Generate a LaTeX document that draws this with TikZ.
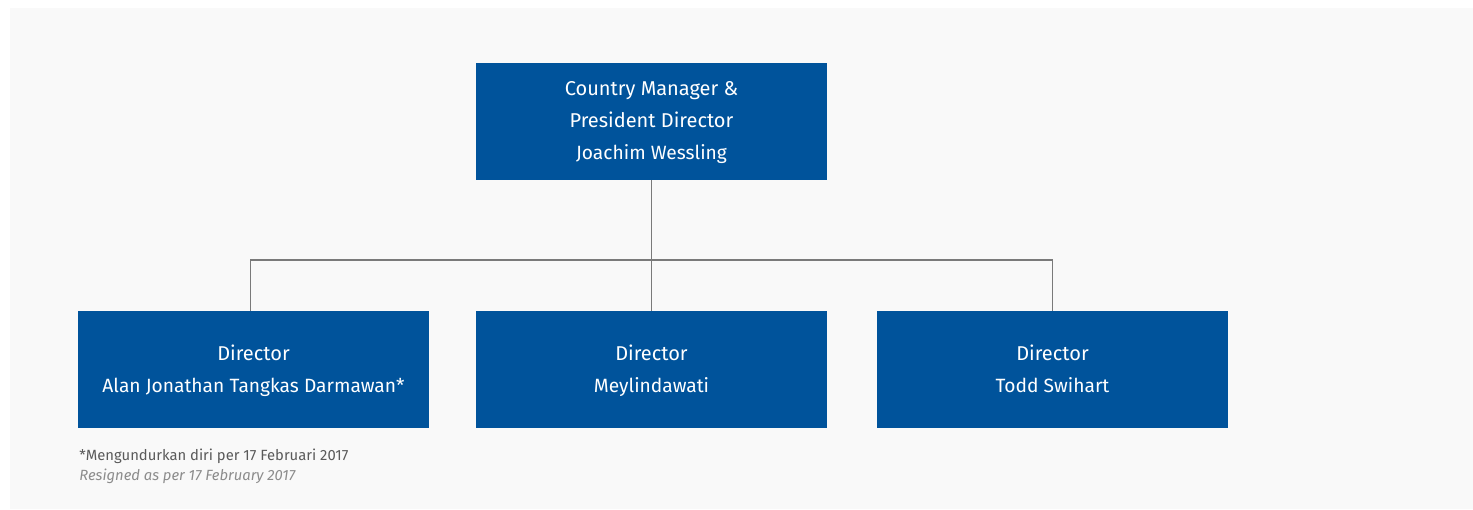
\documentclass[tikz,border=0pt]{standalone}
\usepackage{fontspec}
\setmainfont{Fira Sans}
\definecolor{boxblue}{HTML}{00539B}
\definecolor{bggray}{HTML}{F9F9F9}
\definecolor{linegray}{HTML}{7A7A7A}
\definecolor{notegray}{HTML}{5A5A5A}
\definecolor{notelight}{HTML}{8C8C8C}
\newcommand{\nm}[1]{{\fontsize{9.6}{16}\selectfont #1\vphantom{Jgy}}}
\newcommand{\tl}[1]{\rule{0pt}{9pt}#1}
\begin{document}
\begin{tikzpicture}[x=0.5pt,y=-0.5pt,
  orgbox/.style={fill=boxblue,text=white,minimum width=175.5pt,minimum height=58.5pt,
    inner sep=0pt,align=center,font=\fontsize{10}{16}\selectfont},
  conn/.style={draw=linegray,line width=0.6pt}]
\useasboundingbox (0,0) rectangle (1473,509);
\fill[white] (0,0) rectangle (1473,509);
\fill[bggray] (10,8) rectangle (1473,509);
\node[orgbox] (top) at (651.5,121.5) {\rule{0pt}{8pt}Country Manager \&\\President Director\\\nm{Joachim Wessling}};
\node[orgbox] (left) at (253.5,369.5) {\tl{Director}\\\nm{Alan Jonathan Tangkas Darmawan*}};
\node[orgbox] (mid) at (651.5,369.5) {\tl{Director}\\\nm{Meylindawati}};
\node[orgbox] (right) at (1052.5,369.5) {\tl{Director}\\\nm{Todd Swihart}};
\coordinate (bus) at (651.5,260);
\draw[conn] (top.south) -- (bus);
\draw[conn] (bus) -- (mid.north);
\draw[conn] ([xshift=-1.5pt]left.north) -- ([xshift=-1.5pt]left.north |- bus) -- (right.north |- bus) -- (right.north);
\node[anchor=north west,inner sep=0pt,align=left,font=\fontsize{7.4}{9.6}\selectfont] (note) at (79,449)
  {\textcolor{notegray}{*Mengundurkan diri per 17 Februari 2017}\\\textcolor{notelight}{\itshape Resigned as per 17 February 2017}};
\end{tikzpicture}
\end{document}
